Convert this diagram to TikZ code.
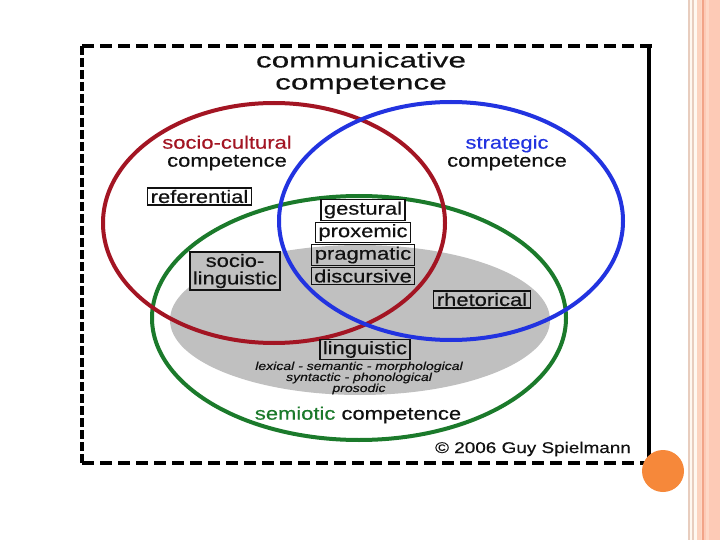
\documentclass[tikz,border=0pt]{standalone}
\usepackage{fontspec}
\usepackage{tikz}
\usetikzlibrary{positioning}
\usepackage{xcolor}

\newfontfamily\titlefont[FakeStretch=1.5, FakeBold=0.4]{Liberation Sans}
\newfontfamily\lblfont[FakeStretch=1.22, FakeBold=0.4]{Liberation Sans}
\newcommand{\bigfont}{\titlefont\fontsize{21}{22}\selectfont}
\newcommand{\midfont}{\lblfont\fontsize{18}{18}\selectfont}
\newcommand{\boxfont}{\lblfont\fontsize{18}{17.5}\selectfont}

\definecolor{redc}{HTML}{A31523}
\definecolor{bluec}{HTML}{2233E0}
\definecolor{greenc}{HTML}{1B7A2B}
\definecolor{grayc}{HTML}{C0C0C0}
\definecolor{orangec}{HTML}{F6883A}
\definecolor{inkc}{HTML}{111111}
\definecolor{stripea}{HTML}{E8CDBE}
\definecolor{stripeb}{HTML}{FFF8F0}
\definecolor{stripec}{HTML}{FCD3BF}
\definecolor{striped}{HTML}{F2A488}
\definecolor{stripee}{HTML}{FDCAB6}
\definecolor{stripef}{HTML}{FED8C6}

\begin{document}
\begin{tikzpicture}[x=1pt, y=-1pt, node distance=22.5pt, on grid,
    ring/.style={line width=4pt},
    box/.style={draw=inkc, line width=1.3pt, inner xsep=3pt, inner ysep=1.8pt, font=\boxfont, text=inkc},
    label/.style={font=\midfont, text=inkc, align=center}]
    \useasboundingbox (0,0) rectangle (720,540);
    \fill[white] (0,0) rectangle (720,540);

    \fill[stripea] (688,0) rectangle (690,540);
    \fill[stripeb] (690,0) rectangle (692,540);
    \fill[stripea] (692,0) rectangle (693.5,540);
    \fill[stripeb] (693.5,0) rectangle (697,540);
    \fill[stripec] (697,0) rectangle (701,540);
    \fill[stripef] (701,0) rectangle (702,540);
    \fill[striped] (702,0) rectangle (703.5,540);
    \fill[stripee] (703.5,0) rectangle (720,540);
    \fill[stripef] (706,0) rectangle (709,540);

    \fill[grayc] (360,320) ellipse (190 and 75);
    \draw[greenc, ring] (359,318) ellipse (207 and 122);
    \draw[redc, ring] (274,223) ellipse (171 and 120);
    \draw[bluec, ring] (451,221) ellipse (172 and 119);

    \draw[line width=4pt, dash pattern=on 12pt off 6pt] (82,46) -- (652,46);
    \draw[line width=4pt, dash pattern=on 9pt off 3pt] (82,46) -- (82,463);
    \draw[line width=4pt, dash pattern=on 12pt off 6pt] (82,463) -- (647,463);
    \draw[line width=4pt] (649,46) -- (649,465);
    \fill[orangec] (663,471) circle (21);

    \node[font=\bigfont, text=inkc, align=center] (title) at (361,73) {communicative\\competence};
    \node[label] (socio) at (227,153) {\textcolor{redc}{socio-cultural}\\competence};
    \node[label] (strat) at (507,153) {\textcolor{bluec}{strategic}\\competence};

    \node[box, fill=white] (refer) at (199.5,196.5) {referential};
    \node[box, fill=white] (gest) at (363,210) {gestural};
    \node[box, fill=white, below=of gest] (prox) {proxemic};
    \node[box, below=of prox] (prag) {pragmatic};
    \node[box, below=21pt of prag] (disc) {discursive};
    \node[box, fill=grayc, align=center] (socling) at (235,271) {socio-\\linguistic};
    \node[box] (rhet) at (482,299.5) {rhetorical};
    \node[box] (ling) at (365,349.5) {linguistic};
    \node[font=\lblfont\itshape\fontsize{11.5}{11}\selectfont, text=inkc, align=center] (levels) at (359,378)
        {lexical - semantic - morphological\\syntactic - phonological\\prosodic};
    \node[label] (semio) at (358,415) {\textcolor{greenc}{semiotic} competence};
    \node[font=\lblfont\fontsize{15.5}{15}\selectfont, text=inkc] (copy) at (533,449) {© 2006 Guy Spielmann};
\end{tikzpicture}
\end{document}
